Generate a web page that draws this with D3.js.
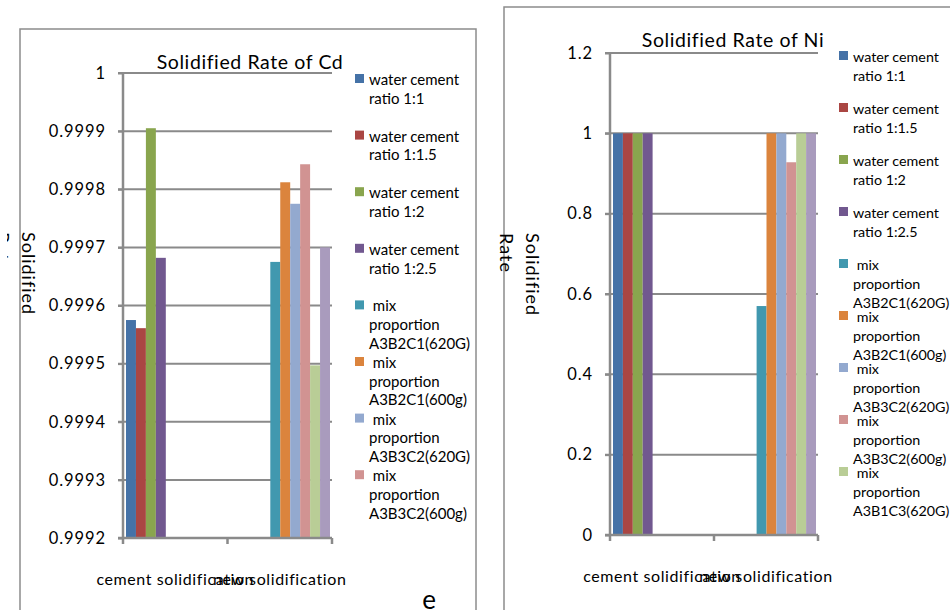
<!DOCTYPE html>
<html>
<head>
<meta charset="utf-8">
<script src="https://cdn.jsdelivr.net/npm/d3@7"></script>
<style>
  html, body { margin: 0; padding: 0; background: #fff; }
  svg { display: block; font-family: Lato, "Open Sans", sans-serif; }
</style>
</head>
<body>
<svg id="chart" width="950" height="610"></svg>
<script>
// ---------------- data ----------------
const categories = ["cement solidification", "new solidification"];

const seriesNames = [
  "water cement ratio 1:1",
  "water cement ratio 1:1.5",
  "water cement ratio 1:2",
  "water cement ratio 1:2.5",
  "mix proportion A3B2C1(620G)",
  "mix proportion A3B2C1(600g)",
  "mix proportion A3B3C2(620G)",
  "mix proportion A3B3C2(600g)",
  "mix proportion A3B1C3(620G)",
  "mix proportion A3B1C3(600g)"
];

const seriesColors = [
  "#4572A7", "#AA4643", "#89A54E", "#71588F", "#4198AF",
  "#DB843D", "#93A9CF", "#D19392", "#B9CD96", "#A99BBD"
];

// Cd chart: value of each series per category (null = no bar)
const cdCement = [0.999575, 0.999561, 0.999905, 0.999682, null, null, null, null, null, null];
const cdNew    = [null, null, null, null, 0.999675, 0.999812, 0.999775, 0.999843, 0.999497, 0.999700];
const cdTicks = [0.9992, 0.9993, 0.9994, 0.9995, 0.9996, 0.9997, 0.9998, 0.9999, 1];
const cdTickLabels = ["0.9992", "0.9993", "0.9994", "0.9995", "0.9996", "0.9997", "0.9998", "0.9999", "1"];

// Ni chart
const niCement = [1, 1, 1, 1, null, null, null, null, null, null];
const niNew    = [null, null, null, null, 0.57, 1, 1, 0.928, 1, 1];
const niTicks = [0, 0.2, 0.4, 0.6, 0.8, 1, 1.2];
const niTickLabels = ["0", "0.2", "0.4", "0.6", "0.8", "1", "1.2"];

// ---------------- drawing ----------------
const svg = d3.select("#chart");
const GRID = "#8a8a8a";

function legendLines(name) {
  const w = name.split(" ");
  if (w[0] === "water") return [w[0] + " " + w[1], w.slice(2).join(" ")];
  return [" " + w[0], w[1], w.slice(2).join(" ")];
}

function drawChart(cfg) {
  const g = svg.append("g");

  // frame
  g.append("rect")
    .attr("x", cfg.frame[0]).attr("y", cfg.frame[1])
    .attr("width", cfg.frame[2]).attr("height", cfg.frame[3])
    .attr("fill", "none").attr("stroke", "#8c8c8c").attr("stroke-width", 1.5);

  const y = d3.scaleLinear().domain(cfg.domain).range([cfg.bottom, cfg.top]);
  const x0 = d3.scaleBand().domain(categories).range([cfg.left, cfg.right]).padding(0);
  const x1 = d3.scaleBand().domain(seriesNames)
    .range([cfg.innerPad, x0.bandwidth() - cfg.innerPad + 1]).padding(0);

  // gridlines
  g.append("g").selectAll("line").data(cfg.ticks).join("line")
    .attr("x1", cfg.left - 5).attr("x2", cfg.right)
    .attr("y1", d => y(d)).attr("y2", d => y(d))
    .attr("stroke", GRID).attr("stroke-width", 2);

  // bars
  const values = [cfg.cement, cfg.newer];
  categories.forEach((cat, ci) => {
    const rows = seriesNames.map((s, si) => ({ s, si, v: values[ci][si] })).filter(d => d.v != null);
    g.append("g").selectAll("rect").data(rows).join("rect")
      .attr("x", d => x0(cat) + x1(d.s))
      .attr("width", x1.bandwidth())
      .attr("y", d => y(d.v))
      .attr("height", d => y(cfg.domain[0]) - y(d.v))
      .attr("fill", d => seriesColors[d.si]);
  });

  // y axis
  const yAxis = d3.axisLeft(y).tickValues(cfg.ticks)
    .tickFormat((d, i) => cfg.tickLabels[i]).tickSize(5).tickPadding(16);
  const ya = g.append("g").attr("transform", `translate(${cfg.left},0)`).call(yAxis);
  ya.select(".domain").attr("stroke", GRID).attr("stroke-width", 2.5)
    .attr("d", `M0,${cfg.top}V${cfg.bottom}`);
  ya.selectAll(".tick line").attr("stroke", GRID).attr("stroke-width", 2);
  ya.selectAll(".tick text").attr("font-size", 16.5).attr("fill", "#000")
    .attr("letter-spacing", 0.9).attr("dx", 4)
    .attr("font-family", "Lato, sans-serif");

  // x axis
  const xAxis = d3.axisBottom(x0).tickSize(0).tickPadding(36);
  const xa = g.append("g").attr("transform", `translate(0,${cfg.bottom})`).call(xAxis);
  xa.select(".domain").attr("stroke", GRID).attr("stroke-width", 2.5)
    .attr("d", `M${cfg.left - 5},0H${cfg.right}`);
  xa.selectAll(".tick text").attr("font-size", 16).attr("fill", "#000")
    .attr("letter-spacing", 0.6).attr("font-family", "Lato, sans-serif");
  const bounds = [cfg.left, cfg.left + x0.bandwidth(), cfg.right];
  xa.append("g").selectAll("line").data(bounds).join("line")
    .attr("x1", d => d).attr("x2", d => d).attr("y1", 0).attr("y2", 6)
    .attr("stroke", GRID).attr("stroke-width", 2.5);

  // title
  g.append("text").attr("x", cfg.titleX).attr("y", cfg.titleY)
    .attr("text-anchor", "middle").attr("font-size", 19.5).attr("fill", "#000")
    .attr("letter-spacing", 0.6)
    .text(cfg.title);

  // y axis title (rotated, clockwise)
  cfg.yTitle.forEach((line, i) => {
    const holder = g.append("g")
      .attr("clip-path", cfg.yTitleClip ? cfg.yTitleClip[i] : null);
    holder.append("text")
      .attr("transform", `translate(${cfg.yTitleX[i]},${cfg.yTitleY}) rotate(90)`)
      .attr("font-size", 18).attr("fill", "#000").attr("letter-spacing", 1)
      .text(line);
  });

  // legend
  const lg = g.append("g");
  seriesNames.slice(0, cfg.legendCount).forEach((name, i) => {
    const by = cfg.legendY + i * cfg.legendStep;
    lg.append("rect").attr("x", cfg.legendX).attr("y", by - 11)
      .attr("width", 9).attr("height", 9).attr("fill", seriesColors[i]);
    legendLines(name).forEach((t, j) => {
      lg.append("text").attr("x", cfg.legendX + 14).attr("y", by + j * cfg.legendLine)
        .attr("font-size", cfg.legendFont).attr("fill", "#000").attr("xml:space", "preserve")
        .style("white-space", "pre").text(t);
    });
  });
}

// clip for the partially hidden "Rate" label on the left chart
svg.append("defs").append("clipPath").attr("id", "clipRate")
  .append("rect").attr("x", 7).attr("y", 0).attr("width", 20).attr("height", 610);

drawChart({
  frame: [20, 29, 456, 600],
  domain: [0.9992, 1], ticks: cdTicks, tickLabels: cdTickLabels,
  cement: cdCement, newer: cdNew,
  left: 123, right: 332, top: 73, bottom: 538, innerPad: 3,
  title: "Solidified Rate of  Cd", titleX: 250, titleY: 69,
  yTitle: ["Solidified", "Rate"], yTitleX: [22, -4], yTitleY: 232,
  yTitleClip: [null, "url(#clipRate)"],
  legendX: 355, legendY: 85, legendStep: 56.6, legendLine: 18.7, legendCount: 8,
  legendFont: 15
});

drawChart({
  frame: [504, 7, 470, 620],
  domain: [0, 1.2], ticks: niTicks, tickLabels: niTickLabels,
  cement: niCement, newer: niNew,
  left: 610, right: 818, top: 53, bottom: 535, innerPad: 3,
  title: "Solidified Rate of  Ni", titleX: 733, titleY: 47,
  yTitle: ["Solidified", "Rate"], yTitleX: [526, 500], yTitleY: 233,
  legendX: 839, legendY: 62, legendStep: 52, legendLine: 19, legendCount: 9,
  legendFont: 14.3
});

// stray clipped label fragment at the bottom
svg.append("text").attr("x", 429).attr("y", 609).attr("text-anchor", "middle")
  .attr("font-size", 26).attr("fill", "#000").text("e");
</script>
</body>
</html>
